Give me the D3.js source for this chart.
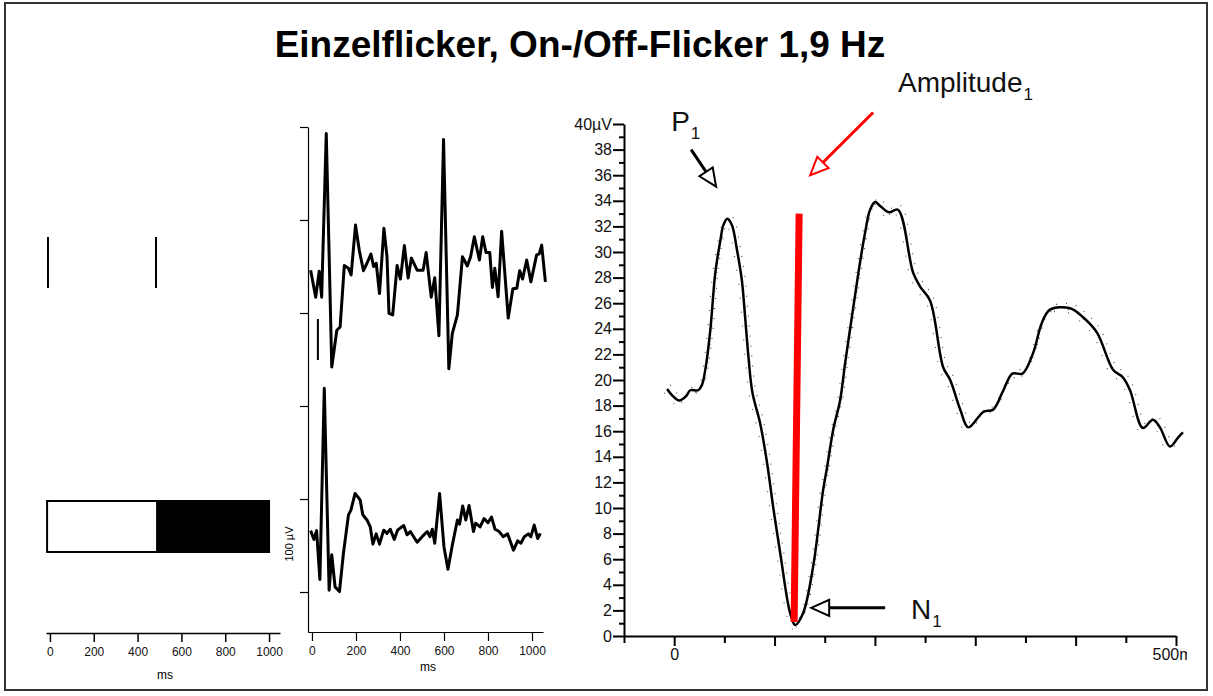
<!DOCTYPE html>
<html>
<head>
<meta charset="utf-8">
<script src="https://cdn.jsdelivr.net/npm/d3@7"></script>
<style>
  body { margin: 0; background: #fff; }
  svg { display: block; font-family: "Liberation Sans", Arial, Helvetica, sans-serif; }
</style>
</head>
<body>
<svg id="chart" width="1213" height="696"></svg>
<script>
// ---- data ----
const title = "Einzelflicker, On-/Off-Flicker 1,9 Hz";

// left panel: stimulus trigger marks and on/off blocks (ms)
const stimMarks = [-9, 484];
const stimEdges = [-13, 490, 1000];
const msTicks = [0, 200, 400, 600, 800, 1000];

// middle panel: two single sweeps [ms, µV]
const traceTop = [
  [-6, 692], [17, 634], [33, 690], [44, 634], [65, 986], [90, 484], [113, 563], [128, 570],
  [147, 702], [166, 696], [178, 682], [198, 789], [215, 735], [234, 691], [250, 707], [268, 727],
  [280, 700], [292, 707], [307, 642], [327, 782], [341, 721], [350, 599], [367, 596], [387, 702],
  [402, 673], [420, 745], [437, 675], [452, 718], [478, 692], [505, 692], [519, 730], [542, 634],
  [558, 676], [577, 551], [598, 973], [622, 480], [638, 556], [661, 596], [684, 721], [706, 701],
  [721, 721], [738, 764], [761, 714], [776, 764], [791, 730], [808, 730], [820, 655], [831, 696],
  [846, 635], [862, 776], [892, 589], [913, 652], [931, 653], [944, 691], [957, 673], [976, 714],
  [995, 667], [1021, 725], [1033, 727], [1044, 746], [1061, 667]
];
const traceBottom = [
  [-6, 132], [9, 113], [21, 132], [36, 27], [56, 438], [78, 4], [90, 80], [105, 11],
  [125, 1], [143, 83], [166, 166], [177, 176], [196, 212], [219, 198], [231, 166], [250, 155],
  [265, 140], [277, 103], [292, 125], [307, 103], [326, 133], [341, 126], [356, 135], [374, 113],
  [389, 133], [417, 143], [432, 123], [447, 130], [478, 107], [501, 119], [524, 130], [536, 119],
  [547, 135], [558, 105], [580, 212], [600, 97], [618, 49], [638, 101], [661, 155], [671, 146],
  [685, 185], [699, 155], [714, 186], [734, 130], [744, 148], [764, 140], [782, 158], [800, 149],
  [816, 161], [832, 135], [851, 130], [869, 119], [889, 125], [916, 90], [935, 110], [950, 105],
  [965, 119], [983, 125], [995, 119], [1010, 144], [1026, 115], [1038, 126]
];
const scaleBarUV = [499, 587];
const scaleBarMs = 27;
const midTicks = [0, 200, 400, 600, 800, 1000];

// right panel: averaged response [ms, µV]
const erpCurve = [
  [-7, 19.3], [-2, 18.8], [5, 18.4], [12, 18.75], [16, 19.2], [24, 19.2], [27.6, 19.6],
  [31, 20.8], [36, 23.9], [41, 28.4], [46, 30.9], [49, 32.1], [53, 32.6], [57.5, 32.1],
  [62.5, 30.2], [67.4, 27.8], [70.7, 24.9], [74, 21.8], [78, 19.0], [85.7, 16.6], [92.6, 13.5],
  [98.6, 10.1], [105.6, 6.5], [115.5, 1.8], [120.5, 0.86], [128.5, 1.8], [138.4, 5.4],
  [148.4, 11.4], [152.4, 13.2], [158.4, 16.1], [165.3, 18.4], [170.3, 21.3], [177, 24.9],
  [183.6, 28.4], [190.2, 31.5], [195.2, 33.3], [200.2, 33.9], [205.2, 33.6], [214, 33.1],
  [223, 33.3], [238, 28.4], [245, 27.3], [255, 26.2], [268, 21.0], [275, 20.0], [285, 17.7],
  [293, 16.3], [308, 17.5], [318, 17.7], [328, 19.2], [337, 20.5], [347, 20.5], [357.6, 22.1],
  [366.5, 24.5], [374.5, 25.5], [394.4, 25.6], [407.4, 24.9], [421.3, 23.7], [437.3, 20.8],
  [447.2, 20.2], [454.2, 19.2], [467, 16.25], [477, 16.9], [484, 16.3], [494, 14.8],
  [502, 15.5], [507, 15.9]
];
const amplitudeBar = [[124.5, 33.0], [119.5, 1.1]];
const arrowP1 = [[16.9, 38.0], [41.8, 35.1]];
const arrowAmp = [[198.2, 40.9], [135.5, 36.0]];
const arrowN1 = [[210.2, 2.2], [136.5, 2.2]];
const labelP1 = [-3, 39.45];
const labelAmp = [223, 42.5];
const labelN1 = [236, 1.3];
const yMajor = d3.range(0, 41, 2);
const yMinor = d3.range(1, 40, 2);
const xMajor = d3.range(0, 501, 100);
const xMinor = d3.range(-50, 500, 100);

const svg = d3.select("#chart");

// outer frame
svg.append("rect")
  .attr("x", 5).attr("y", 3).attr("width", 1202).attr("height", 687)
  .attr("fill", "none").attr("stroke", "#333").attr("stroke-width", 2);

svg.append("text")
  .attr("x", 580).attr("y", 57)
  .attr("text-anchor", "middle")
  .attr("font-size", 37).attr("font-weight", "bold")
  .text(title);

// ---- left panel: stimulus ----
const xLeft = d3.scaleLinear().domain([-18, 1050]).range([46, 280]);
const left = svg.append("g");

left.selectAll("line.mark")
  .data(stimMarks)
  .join("line")
  .attr("class", "mark")
  .attr("x1", d => xLeft(d)).attr("x2", d => xLeft(d))
  .attr("y1", 237).attr("y2", 288)
  .attr("stroke", "#000").attr("stroke-width", 2);

left.selectAll("rect")
  .data(d3.pairs(stimEdges))
  .join("rect")
  .attr("x", d => xLeft(d[0]))
  .attr("width", d => xLeft(d[1]) - xLeft(d[0]))
  .attr("y", 501).attr("height", 51)
  .attr("fill", (d, i) => (i === 0 ? "#fff" : "#000"))
  .attr("stroke", "#000").attr("stroke-width", 2);

const leftAxis = left.append("g")
  .attr("transform", "translate(0,633)")
  .call(d3.axisBottom(xLeft).tickValues(msTicks).tickSize(9).tickSizeOuter(0)
    .tickPadding(5).tickFormat(d3.format("d")));
leftAxis.selectAll("text").attr("font-size", 12).attr("fill", "#111");
leftAxis.selectAll("path,line").attr("stroke-width", 1.5);

left.append("text")
  .attr("x", 165).attr("y", 679)
  .attr("text-anchor", "middle").attr("font-size", 12)
  .text("ms");

// ---- middle panel: sweeps ----
const xMid = d3.scaleLinear().domain([-18, 1050]).range([308, 543]);
const yMid = d3.scaleLinear().domain([-86, 1000]).range([632, 127]);
const mid = svg.append("g");

mid.append("g")
  .attr("transform", "translate(308,0)")
  .call(d3.axisLeft(yMid).tickValues(midTicks).tickSize(8).tickSizeOuter(0).tickFormat(""));
const midX = mid.append("g")
  .attr("transform", "translate(0,632)")
  .call(d3.axisBottom(xMid).tickValues(msTicks).tickSize(9).tickSizeOuter(0)
    .tickPadding(5).tickFormat(d3.format("d")));
midX.selectAll("text").attr("font-size", 12).attr("fill", "#111");
mid.selectAll("path.domain, .tick line").attr("stroke-width", 1.2);

mid.append("text")
  .attr("x", 428).attr("y", 671)
  .attr("text-anchor", "middle").attr("font-size", 12)
  .text("ms");

const midLine = d3.line().x(d => xMid(d[0])).y(d => yMid(d[1]));
mid.selectAll("path.trace")
  .data([traceTop, traceBottom])
  .join("path")
  .attr("class", "trace")
  .attr("d", midLine)
  .attr("fill", "none").attr("stroke", "#000")
  .attr("stroke-width", 3).attr("stroke-linejoin", "round");

mid.append("line")
  .attr("x1", xMid(scaleBarMs)).attr("x2", xMid(scaleBarMs))
  .attr("y1", yMid(scaleBarUV[1])).attr("y2", yMid(scaleBarUV[0]))
  .attr("stroke", "#000").attr("stroke-width", 2);

mid.append("text")
  .attr("transform", "translate(293,544) rotate(-90)")
  .attr("text-anchor", "middle").attr("font-size", 11)
  .text("100 µV");

// ---- right panel: averaged response ----
const xR = d3.scaleLinear().domain([-50, 500]).range([624, 1176]);
const yR = d3.scaleLinear().domain([0, 40]).range([636, 124]);
const right = svg.append("g");

// clip in the x axis group's own (translated) coordinates, cuts "500ms"
svg.append("defs").append("clipPath").attr("id", "rclip")
  .append("rect").attr("x", 560).attr("y", -10).attr("width", 627).attr("height", 60);

const yAx = right.append("g")
  .attr("transform", "translate(624,0)")
  .call(d3.axisLeft(yR).tickValues(yMajor).tickSize(11).tickPadding(1).tickSizeOuter(0)
    .tickFormat(d => (d === 40 ? "40µV" : d)));
yAx.selectAll("text").attr("font-size", 16).attr("fill", "#111");
right.append("g")
  .attr("transform", "translate(624,0)")
  .call(d3.axisLeft(yR).tickValues(yMinor).tickSize(5).tickFormat(""))
  .call(g => g.select(".domain").remove());

const xAx = right.append("g")
  .attr("transform", "translate(0,636)")
  .attr("clip-path", "url(#rclip)")
  .call(d3.axisBottom(xR).tickValues(xMajor).tickSize(10).tickPadding(3).tickSizeOuter(0)
    .tickFormat(d => (d === 0 ? "0" : d === 500 ? "500ms" : "")));
xAx.selectAll("text").attr("font-size", 16).attr("fill", "#111");
right.append("g")
  .attr("transform", "translate(0,636)")
  .call(d3.axisBottom(xR).tickValues(xMinor).tickSize(7).tickFormat(""))
  .call(g => g.select(".domain").remove());
right.selectAll("path.domain, .tick line").attr("stroke-width", 2);

const erpLine = d3.line().x(d => xR(d[0])).y(d => yR(d[1])).curve(d3.curveCatmullRom);

// raw samples, drawn as scattered dots around the fit
[[3, -4, "1 9"], [-3, 4, "1 13"], [1, 2, "1 17"]].forEach(([dx, dy, dash]) => {
  right.append("path")
    .attr("d", erpLine(erpCurve))
    .attr("transform", `translate(${dx},${dy})`)
    .attr("fill", "none").attr("stroke", "#555")
    .attr("stroke-width", 1.2).attr("stroke-dasharray", dash);
});

right.append("path")
  .attr("d", erpLine(erpCurve))
  .attr("fill", "none").attr("stroke", "#000")
  .attr("stroke-width", 2.5);

right.append("line")
  .attr("x1", xR(amplitudeBar[0][0])).attr("y1", yR(amplitudeBar[0][1]))
  .attr("x2", xR(amplitudeBar[1][0])).attr("y2", yR(amplitudeBar[1][1]))
  .attr("stroke", "#ff0000").attr("stroke-width", 7);

// open-headed arrows
function drawArrow(pts, color) {
  const [x0, y0] = [xR(pts[0][0]), yR(pts[0][1])];
  const [x1, y1] = [xR(pts[1][0]), yR(pts[1][1])];
  const len = Math.hypot(x1 - x0, y1 - y0);
  const ux = (x1 - x0) / len, uy = (y1 - y0) / len;
  const L = 18, W = 8;
  const bx = x1 - ux * L, by = y1 - uy * L;
  right.append("line")
    .attr("x1", x0).attr("y1", y0).attr("x2", bx).attr("y2", by)
    .attr("stroke", color).attr("stroke-width", 3);
  right.append("polygon")
    .attr("points", [[x1, y1], [bx - uy * W, by + ux * W], [bx + uy * W, by - ux * W]].join(" "))
    .attr("fill", "#fff").attr("stroke", color).attr("stroke-width", 2);
}
drawArrow(arrowP1, "#000");
drawArrow(arrowAmp, "#ff0000");
drawArrow(arrowN1, "#000");

function drawLabel(pos, main, sub) {
  const t = right.append("text")
    .attr("x", xR(pos[0])).attr("y", yR(pos[1]))
    .attr("font-size", 28).attr("fill", "#111");
  t.append("tspan").text(main);
  t.append("tspan").attr("font-size", 17).attr("dx", 1).attr("dy", 8).text(sub);
}
drawLabel(labelP1, "P", "1");
drawLabel(labelAmp, "Amplitude", "1");
drawLabel(labelN1, "N", "1");
</script>
</body>
</html>
